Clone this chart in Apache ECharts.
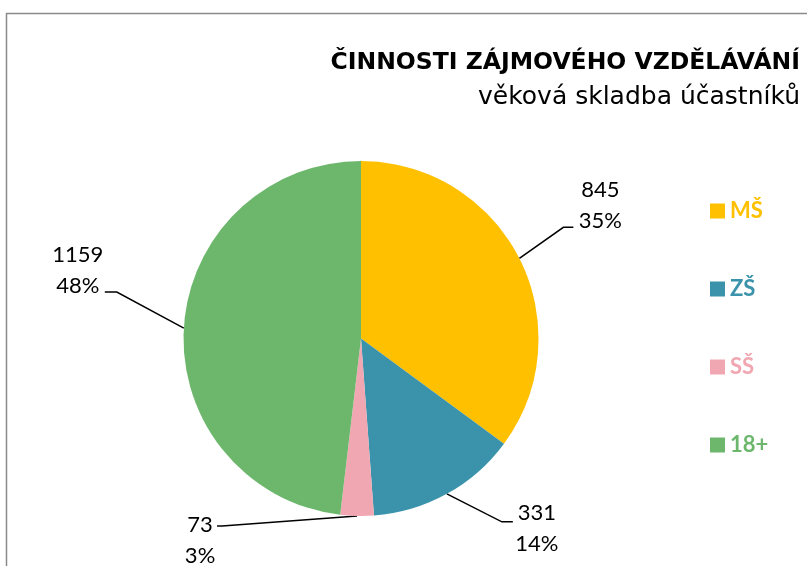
<!DOCTYPE html>
<html>
<head>
<meta charset="utf-8">
<script src="https://cdn.jsdelivr.net/npm/echarts@6/dist/echarts.min.js"></script>
<style>html,body{margin:0;padding:0;background:#fff}#c{width:807px;height:566px}</style>
</head>
<body>
<div id="c"></div>
<script>
// ---- data ----
const categories = ['MŠ', 'ZŠ', 'SŠ', '18+'];
const values = [845, 331, 73, 1159];
const percentLabels = ['35%', '14%', '3%', '48%'];
const titleText = 'ČINNOSTI ZÁJMOVÉHO VZDĚLÁVÁNÍ';
const subtitleText = 'věková skladba účastníků';

// ---- styles / layout ----
const colors = ['#FFC000', '#3A93AB', '#F0A7B1', '#6DB76D'];
// leader line elbow offsets from the slice anchor, horizontal tail, label offset from line end
const leader = [
  { ex: 44, ey: -31, tail: 10, lx: 27, ly: -22 },
  { ex: 55, ey: 28, tail: 11, lx: 24, ly: 7 },
  { ex: -135, ey: 10, tail: -5, lx: -17, ly: 14 },
  { ex: -67, ey: -36, tail: -12, lx: -27, ly: -22 }
];

const chart = echarts.init(document.getElementById('c'), null, { renderer: 'canvas' });
const labelFont = 'Lato, "Open Sans", sans-serif';

chart.setOption({
  animation: false,
  backgroundColor: '#ffffff',
  color: colors,
  graphic: [{
    type: 'rect',
    shape: { x: 6.5, y: 13.5, width: 1000, height: 1000 },
    style: { fill: 'none', stroke: '#8a8a8a', lineWidth: 1.5 },
    silent: true
  }],
  title: [{
    text: titleText,
    right: 2, top: 46,
    textStyle: { fontFamily: '"DejaVu Sans", sans-serif', fontWeight: 'bold', fontSize: 23.5, color: '#000' }
  }, {
    text: subtitleText,
    right: 2, top: 80,
    textStyle: { fontFamily: '"DejaVu Sans", sans-serif', fontWeight: 'normal', fontSize: 25, color: '#000' }
  }],
  legend: {
    orient: 'vertical',
    left: 705, top: 195,
    itemWidth: 15, itemHeight: 15,
    itemGap: 56,
    icon: 'rect',
    data: categories.map((c, i) => ({ name: c, textStyle: { color: colors[i] } })),
    textStyle: { fontFamily: labelFont, fontWeight: 'bold', fontSize: 22 }
  },
  series: [{
    type: 'pie',
    center: [361, 338.5],
    radius: 177.5,
    startAngle: 90,
    clockwise: true,
    avoidLabelOverlap: false,
    data: categories.map((c, i) => ({ name: c, value: values[i] })),
    itemStyle: { borderWidth: 0 },
    label: {
      show: true,
      position: 'outside',
      formatter: (p) => values[p.dataIndex] + '\n' + percentLabels[p.dataIndex],
      fontFamily: labelFont,
      fontSize: 22,
      lineHeight: 31,
      color: '#000',
      align: 'center'
    },
    labelLine: { show: true, lineStyle: { color: '#000', width: 1.5 } },
    labelLayout: function (params) {
      const o = leader[params.dataIndex];
      const p0 = params.labelLinePoints[0];
      const elbow = [p0[0] + o.ex, p0[1] + o.ey];
      const end = [elbow[0] + o.tail, elbow[1]];
      return {
        x: end[0] + o.lx,
        y: end[1] + o.ly,
        align: 'center',
        verticalAlign: 'middle',
        labelLinePoints: [p0, elbow, end]
      };
    }
  }]
});
</script>
</body>
</html>
